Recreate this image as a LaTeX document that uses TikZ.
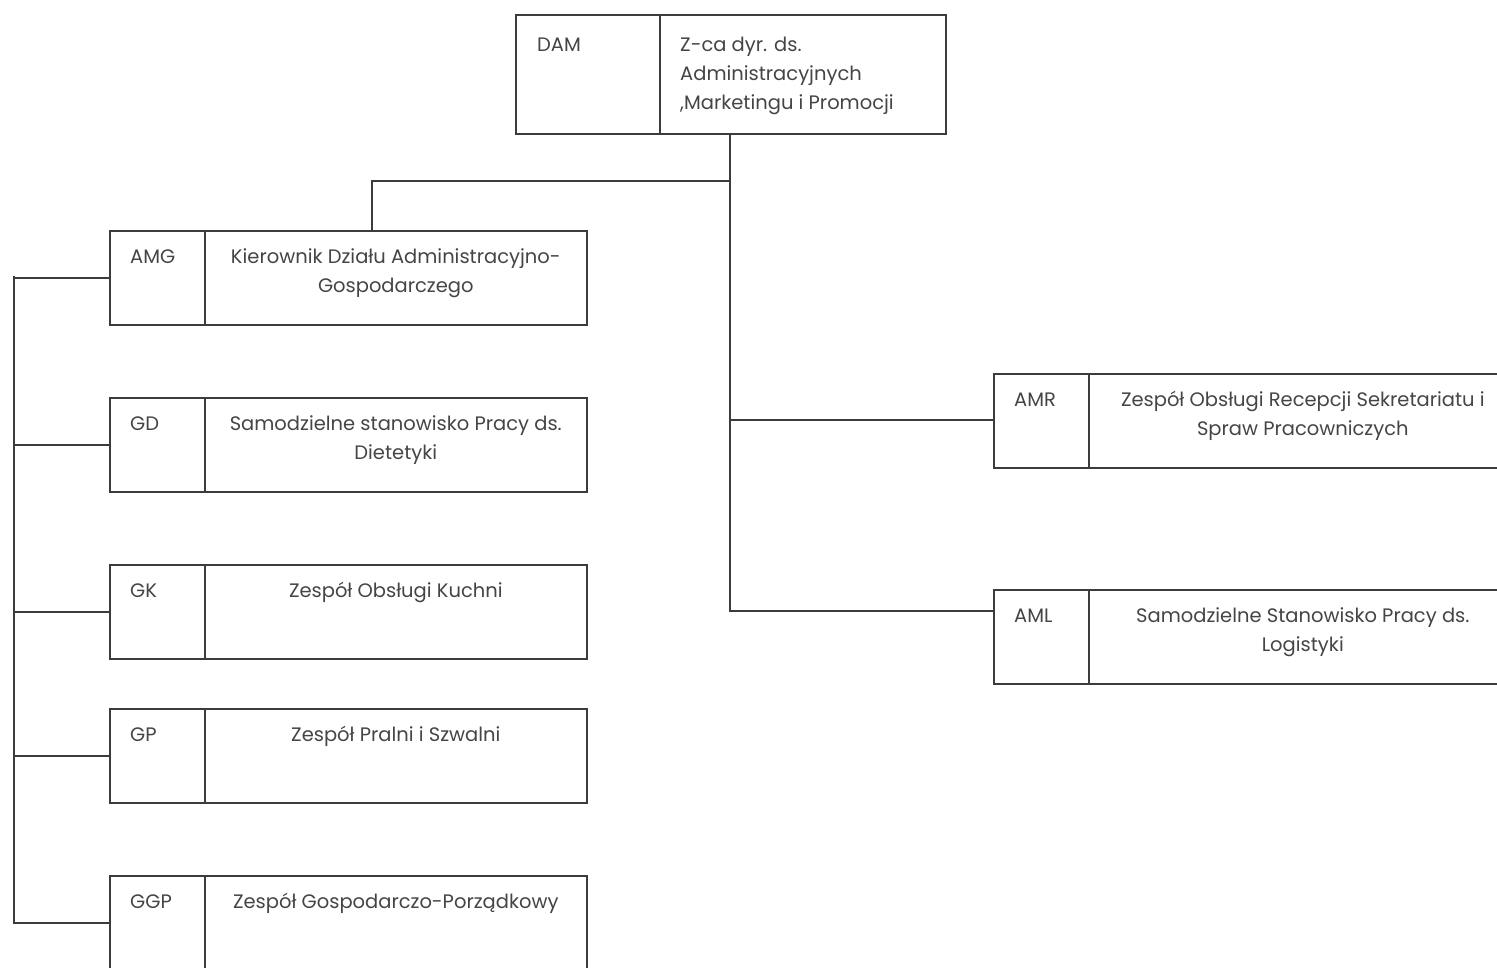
\documentclass[tikz,border=0pt]{standalone}
\usepackage{fontspec}
\setmainfont{Poppins}
\definecolor{ink}{HTML}{3C3C3C}
\definecolor{txt}{HTML}{454545}
\begin{document}
\begin{tikzpicture}[x=1pt,y=-1pt,
  cell/.style={draw=ink, line width=1.6pt, rectangle, inner sep=0pt, anchor=north west},
  code/.style={text=txt, font=\fontsize{19.5}{29}\selectfont, inner sep=0pt, anchor=base west},
  title/.style={text=txt, font=\fontsize{19.5}{29}\selectfont, inner sep=0pt, anchor=base, align=center},
  conn/.style={draw=ink, line width=1.6pt}]
\useasboundingbox (0,0) rectangle (1497,967);
\clip (0,0) rectangle (1497,967);
\fill[white] (0,0) rectangle (1497,967);

% top box
\node[cell, minimum width=144, minimum height=119] (damL) at (515,14) {};
\node[cell, minimum width=286, minimum height=119] (damR) at (659,14) {};
\node[code] (damC) at ([xshift=22,yshift=-37]damL.north west) {DAM};
\node[text=txt, font=\fontsize{19.5}{29}\selectfont, inner sep=0pt, anchor=base west, align=left] (damT) at ([xshift=21,yshift=-95]damR.north west) {Z-ca dyr. ds.\\Administracyjnych\\,Marketingu i Promocji};

% left column (last argument: baseline offset of the last line)
\foreach \n/\y/\c/\t/\o in {amg/230/AMG/{Kierownik Działu Administracyjno-\\Gospodarczego}/62,
                         gd/397/GD/{Samodzielne stanowisko Pracy ds.\\Dietetyki}/62,
                         gk/564/GK/{Zespół Obsługi Kuchni}/33,
                         gp/708/GP/{Zespół Pralni i Szwalni}/33,
                         ggp/875/GGP/{Zespół Gospodarczo-Porządkowy}/33}{
  \node[cell, minimum width=95, minimum height=94] (\n L) at (109,\y) {};
  \node[cell, minimum width=382, minimum height=94] (\n R) at (204,\y) {};
  \node[code] (\n C) at ([xshift=21,yshift=-33]\n L.north west) {\c};
  \node[title] (\n T) at ([yshift=-\o]\n R.north) {\t};
}

% right column
\foreach \n/\y/\c/\t/\o in {amr/373/AMR/{Zespół Obsługi Recepcji Sekretariatu i\\Spraw Pracowniczych}/62,
                         aml/589/AML/{Samodzielne Stanowisko Pracy ds.\\Logistyki}/62}{
  \node[cell, minimum width=95, minimum height=94] (\n L) at (993,\y) {};
  \node[cell, minimum width=428, minimum height=94] (\n R) at (1088,\y) {};
  \node[code] (\n C) at ([xshift=21,yshift=-33]\n L.north west) {\c};
  \node[title] (\n T) at ([yshift=-\o]\n R.north) {\t};
}

% junctions
\coordinate (trunkTop) at (730,133);
\coordinate (jAmg) at (730,181);
\coordinate (jAmr) at (730,420);
\coordinate (jAml) at (730,611);
\coordinate (amgIn) at (372,230);
\coordinate (busTop) at (14,276);

\draw[conn] (trunkTop) -- (jAml) -- (jAml -| amlL.west);
\draw[conn] (jAmg) -| (amgIn);
\draw[conn] (jAmr) -- (jAmr -| amrL.west);
\draw[conn] (amgL.west) -| (busTop) |- (ggpL.west);
\draw[conn] (gdL.west) -- (gdL.west -| busTop);
\draw[conn] (gkL.west) -- (gkL.west -| busTop);
\draw[conn] (gpL.west) -- (gpL.west -| busTop);
\end{tikzpicture}
\end{document}
